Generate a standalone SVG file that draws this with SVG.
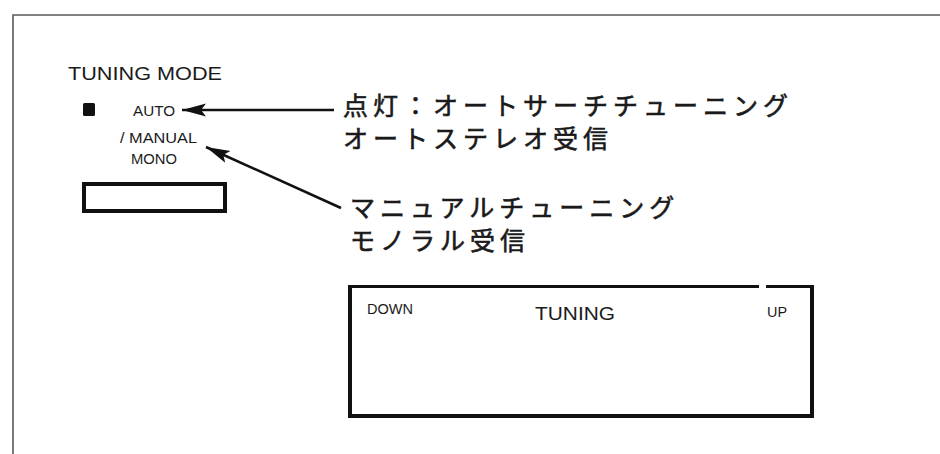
<svg xmlns="http://www.w3.org/2000/svg" width="940" height="454" viewBox="0 0 940 454">
  <style>
    .lat { font-family: "Liberation Sans", Arial, sans-serif; fill: #1a1a1a; }
    .jp { font-family: "Noto Sans CJK JP", "Noto Sans CJK SC", sans-serif; fill: #1a1a1a; stroke: #1a1a1a; stroke-width: 0.6; font-size: 25px; letter-spacing: 5px; }
    .frame { fill: none; stroke: #5a5a5a; stroke-width: 1.6; }
    .box { fill: none; stroke: #111; stroke-width: 4; }
    .conn { fill: none; stroke: #111; stroke-width: 2.6; }
  </style>
  <defs>
    <marker id="arrow" markerUnits="userSpaceOnUse" markerWidth="26" markerHeight="16" refX="24" refY="7" orient="auto">
      <polygon points="0,0.5 24,7 0,13.5 5,7" fill="#111"/>
    </marker>
  </defs>
  <rect width="940" height="454" fill="#fff"/>

  <g id="frame">
    <path class="frame" d="M13,454 V15 H940"/>
  </g>

  <g id="tuning-mode">
    <text class="lat" x="68" y="80" font-size="19" textLength="154" lengthAdjust="spacingAndGlyphs">TUNING MODE</text>
    <rect x="83" y="103" width="12" height="13" rx="1.5" fill="#111"/>
    <text class="lat" x="133" y="116" font-size="14" textLength="42" lengthAdjust="spacingAndGlyphs">AUTO</text>
    <text class="lat" x="120" y="143" font-size="14" textLength="77" lengthAdjust="spacingAndGlyphs">/ MANUAL</text>
    <text class="lat" x="131" y="164" font-size="14" textLength="46" lengthAdjust="spacingAndGlyphs">MONO</text>
    <rect class="box" x="84" y="184" width="141" height="27"/>
  </g>

  <g id="label-auto">
    <text class="jp" x="343" y="115">点灯：オートサーチチューニング</text>
    <text class="jp" x="343" y="148">オートステレオ受信</text>
  </g>

  <g id="label-manual">
    <text class="jp" x="350" y="217">マニュアルチューニング</text>
    <text class="jp" x="350" y="250">モノラル受信</text>
  </g>

  <g id="tuning-panel">
    <path class="box" d="M350,286 V416 H812 V287" />
    <path fill="none" stroke="#111" stroke-width="3" d="M348,286.5 H759 M766,286.5 H814"/>
    <text class="lat" x="367" y="314" font-size="14" textLength="46" lengthAdjust="spacingAndGlyphs">DOWN</text>
    <text class="lat" x="535" y="320" font-size="19" textLength="80" lengthAdjust="spacingAndGlyphs">TUNING</text>
    <text class="lat" x="767" y="317" font-size="14" textLength="20" lengthAdjust="spacingAndGlyphs">UP</text>
  </g>

  <g id="connectors">
    <line class="conn" x1="334" y1="110" x2="182" y2="110" marker-end="url(#arrow)"/>
    <line class="conn" x1="341" y1="208" x2="206" y2="147" marker-end="url(#arrow)"/>
  </g>
</svg>
